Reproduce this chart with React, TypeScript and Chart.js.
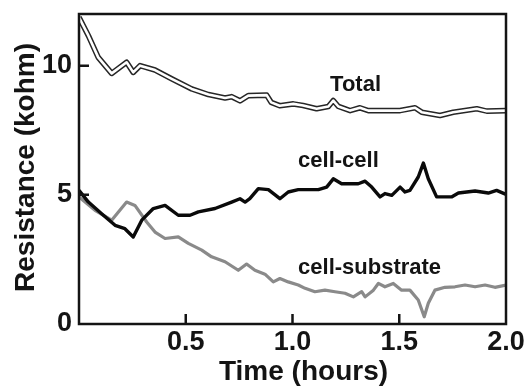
import React, { useEffect, useRef } from "react";
import { Chart, registerables } from "chart.js";

Chart.register(...registerables);

// ---- Data (time in hours, resistance in kohm) ----
const totalTime = [0, 0.044, 0.09, 0.153, 0.223, 0.254, 0.286, 0.356, 0.434, 0.528, 0.606, 0.684, 0.715, 0.754, 0.793, 0.879, 0.9, 0.94, 1.004, 1.05, 1.113, 1.168, 1.191, 1.215, 1.27, 1.316, 1.355, 1.504, 1.574, 1.605, 1.691, 1.753, 1.863, 1.91, 2.0];
const totalValues = [11.87, 11.16, 10.32, 9.7, 10.13, 9.74, 10.0, 9.83, 9.49, 9.1, 8.88, 8.75, 8.8, 8.64, 8.84, 8.86, 8.58, 8.45, 8.52, 8.46, 8.33, 8.42, 8.65, 8.42, 8.26, 8.37, 8.26, 8.26, 8.37, 8.2, 8.07, 8.2, 8.33, 8.24, 8.26];

const cellCellTime = [0, 0.044, 0.106, 0.169, 0.215, 0.254, 0.294, 0.348, 0.403, 0.465, 0.52, 0.559, 0.637, 0.715, 0.754, 0.778, 0.8, 0.84, 0.887, 0.941, 0.98, 1.027, 1.121, 1.16, 1.191, 1.23, 1.308, 1.34, 1.371, 1.41, 1.433, 1.465, 1.504, 1.527, 1.55, 1.589, 1.613, 1.636, 1.675, 1.745, 1.777, 1.855, 1.917, 1.956, 2.0];
const cellCellValues = [5.17, 4.72, 4.27, 3.82, 3.69, 3.37, 4.02, 4.47, 4.59, 4.21, 4.21, 4.34, 4.47, 4.72, 4.85, 4.72, 4.85, 5.24, 5.2, 4.85, 5.11, 5.2, 5.2, 5.3, 5.62, 5.43, 5.43, 5.53, 5.3, 4.92, 5.05, 4.98, 5.3, 5.11, 5.17, 5.69, 6.23, 5.62, 4.92, 4.92, 5.07, 5.15, 5.07, 5.17, 5.02];

const substrateTime = [0, 0.075, 0.153, 0.223, 0.262, 0.317, 0.356, 0.403, 0.465, 0.512, 0.575, 0.621, 0.684, 0.746, 0.785, 0.824, 0.871, 0.91, 0.941, 0.98, 1.027, 1.059, 1.105, 1.152, 1.199, 1.246, 1.285, 1.324, 1.34, 1.379, 1.402, 1.433, 1.472, 1.511, 1.55, 1.589, 1.617, 1.636, 1.667, 1.714, 1.761, 1.808, 1.855, 1.902, 1.948, 2.0];
const substrateValues = [4.92, 4.4, 4.02, 4.72, 4.59, 3.95, 3.56, 3.31, 3.37, 3.12, 2.86, 2.6, 2.41, 2.08, 2.32, 2.08, 1.93, 1.63, 1.76, 1.63, 1.51, 1.38, 1.25, 1.31, 1.25, 1.19, 1.05, 1.25, 1.05, 1.31, 1.57, 1.44, 1.57, 1.31, 1.31, 0.93, 0.28, 0.8, 1.31, 1.42, 1.44, 1.51, 1.44, 1.51, 1.42, 1.51];

const xTickValues = [0.5, 1.0, 1.5, 2.0];
const yTickValues = [0, 5, 10];

const seriesLabels = ["Total", "cell-cell", "cell-substrate"];
const seriesLabelTimes = [1.176, 1.026, 1.026];
const seriesLabelValues = [9.03, 6.06, 1.93];

const xTitle = "Time (hours)";
const yTitle = "Resistance (kohm)";

const FONT = "'Liberation Sans', Arial, Helvetica, sans-serif";
const INK = "#141414";

const toPoints = (t: number[], v: number[]) => t.map((x, i) => ({ x, y: v[i] }));

const framePlugin = {
  id: "frame",
  afterDatasetsDraw(chart: any) {
    const { ctx, chartArea, scales } = chart;
    const xs = scales.x;
    const ys = scales.y;
    ctx.save();
    // frame
    ctx.strokeStyle = INK;
    ctx.lineWidth = 2.5;
    ctx.strokeRect(chartArea.left, chartArea.top, chartArea.right - chartArea.left, chartArea.bottom - chartArea.top);
    // inward tick marks
    ctx.lineWidth = 2.5;
    ctx.beginPath();
    xs.ticks.forEach((t: any) => {
      if (t.value <= xs.min || t.value >= xs.max) return;
      const px = xs.getPixelForValue(t.value);
      ctx.moveTo(px, chartArea.bottom);
      ctx.lineTo(px, chartArea.bottom - 10);
    });
    ys.ticks.forEach((t: any) => {
      if (t.value <= ys.min || t.value >= ys.max) return;
      const py = ys.getPixelForValue(t.value);
      ctx.moveTo(chartArea.left, py);
      ctx.lineTo(chartArea.left + 10, py);
    });
    ctx.stroke();

    // series labels
    ctx.fillStyle = INK;
    ctx.font = `bold 22px ${FONT}`;
    ctx.textAlign = "left";
    ctx.textBaseline = "alphabetic";
    seriesLabels.forEach((txt, i) => {
      ctx.fillText(txt, xs.getPixelForValue(seriesLabelTimes[i]), ys.getPixelForValue(seriesLabelValues[i]));
    });

    // axis titles
    ctx.font = `bold 28px ${FONT}`;
    ctx.textAlign = "center";
    ctx.fillText(xTitle, (chartArea.left + chartArea.right) / 2 + 11, 380);
    ctx.save();
    ctx.translate(34, (chartArea.top + chartArea.bottom) / 2 - 1.5);
    ctx.rotate(-Math.PI / 2);
    ctx.fillText(yTitle, 0, 0);
    ctx.restore();
    ctx.restore();
  },
};

export default function App() {
  const ref = useRef<HTMLCanvasElement | null>(null);

  useEffect(() => {
    if (!ref.current) return;
    const chart = new Chart(ref.current, {
      type: "line",
      data: {
        datasets: [
          {
            label: "Total core",
            data: toPoints(totalTime, totalValues),
            borderColor: "#ffffff",
            borderWidth: 2.6,
            pointRadius: 0,
            tension: 0,
            borderJoinStyle: "round",
          },
          {
            label: "Total",
            data: toPoints(totalTime, totalValues),
            borderColor: "#262626",
            borderWidth: 5.6,
            pointRadius: 0,
            tension: 0,
            borderJoinStyle: "round",
          },
          {
            label: "cell-cell",
            data: toPoints(cellCellTime, cellCellValues),
            borderColor: "#0a0a0a",
            borderWidth: 3.4,
            pointRadius: 0,
            tension: 0,
            borderJoinStyle: "round",
          },
          {
            label: "cell-substrate",
            data: toPoints(substrateTime, substrateValues),
            borderColor: "#8a8a8a",
            borderWidth: 3.2,
            pointRadius: 0,
            tension: 0,
            borderJoinStyle: "round",
          },
        ],
      },
      options: {
        responsive: false,
        animation: false,
        events: [],
        layout: { padding: { left: 0, top: 14, right: 21, bottom: 0 } },
        plugins: { legend: { display: false }, tooltip: { enabled: false }, title: { display: false } },
        scales: {
          x: {
            type: "linear",
            min: 0,
            max: 2,
            grid: { display: false, drawTicks: false },
            border: { display: false },
            afterBuildTicks: (s: any) => {
              s.ticks = xTickValues.map((v) => ({ value: v }));
            },
            afterFit: (s: any) => {
              s.height = 63;
              s.paddingLeft = 0;
              s.paddingRight = 0;
            },
            ticks: {
              padding: 2,
              color: INK,
              font: { family: FONT, size: 27, weight: "bold" },
              maxRotation: 0,
              autoSkip: false,
              callback: (v: any) => Number(v).toFixed(1),
            },
          },
          y: {
            type: "linear",
            min: 0,
            max: 12,
            grid: { display: false, drawTicks: false },
            border: { display: false },
            afterBuildTicks: (s: any) => {
              s.ticks = yTickValues.map((v) => ({ value: v }));
            },
            afterFit: (s: any) => {
              s.width = 79;
              s.paddingTop = 0;
              s.paddingBottom = 0;
            },
            ticks: {
              padding: 7,
              color: INK,
              font: { family: FONT, size: 27, weight: "bold" },
              autoSkip: false,
              callback: (v: any) => String(v),
            },
          },
        },
      },
      plugins: [framePlugin],
    } as any);
    return () => chart.destroy();
  }, []);

  return (
    <div style={{ position: "fixed", left: 0, top: 0, width: 527, height: 387, background: "#fff" }}>
      <canvas ref={ref} width={527} height={387} style={{ display: "block" }} />
    </div>
  );
}
